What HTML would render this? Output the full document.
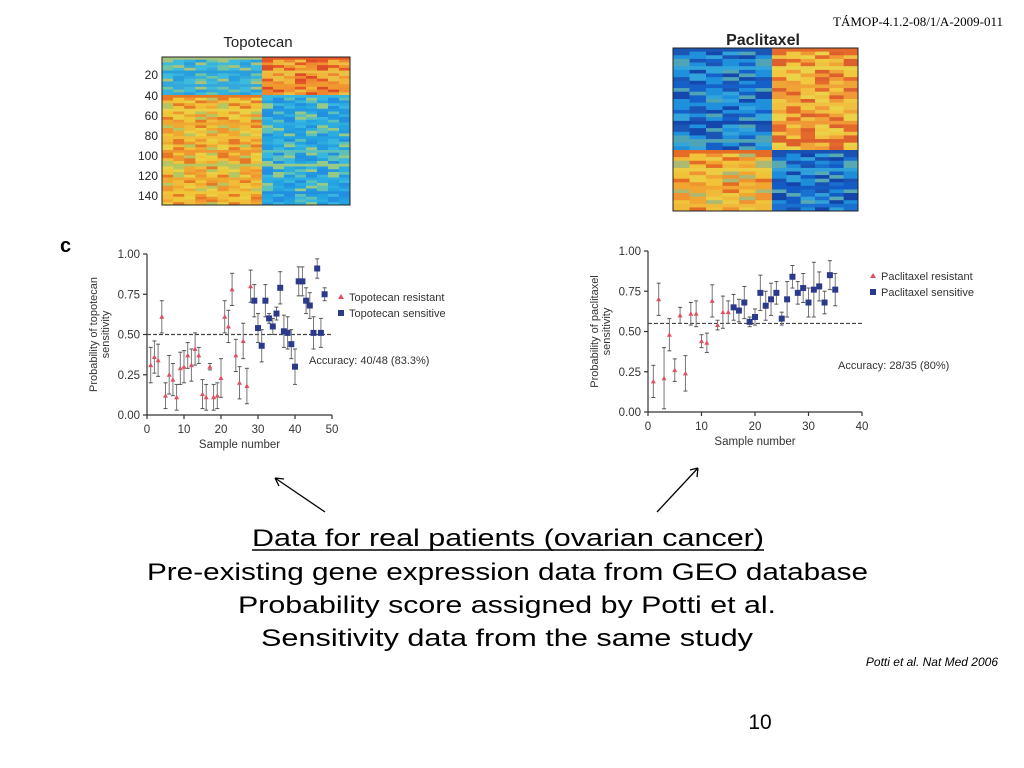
<!DOCTYPE html>
<html><head><meta charset="utf-8"><style>
html,body{margin:0;padding:0;background:#fff;}
svg{display:block;}
</style></head><body>
<svg id="slide" width="1024" height="768" viewBox="0 0 1024 768" xmlns="http://www.w3.org/2000/svg" font-family="Liberation Sans, sans-serif">
<text x="1003" y="26" text-anchor="end" font-family="Liberation Serif, serif" font-size="13">TÁMOP-4.1.2-08/1/A-2009-011</text>

<g>
<text x="258" y="47" text-anchor="middle" font-size="15" fill="#222">Topotecan</text>
<rect x="162" y="57" width="100" height="38" fill="#3cb4d8"/>
<rect x="162" y="95" width="100" height="110" fill="#f0b830"/>
<rect x="262" y="57" width="88" height="38" fill="#f09030"/>
<rect x="262" y="95" width="88" height="110" fill="#2aa8e0"/>
<g id="hmL" opacity="0.6"></g>
<rect x="162" y="57" width="188" height="148" fill="none" stroke="#222" stroke-width="1"/>
<g font-size="12" fill="#222" text-anchor="end">
<text x="158" y="79">20</text><text x="158" y="100">40</text><text x="158" y="120">60</text><text x="158" y="140">80</text><text x="158" y="160">100</text><text x="158" y="180">120</text><text x="158" y="200">140</text>
</g>
</g>
<g>
<text x="763" y="45" text-anchor="middle" font-size="16" font-weight="bold" fill="#222">Paclitaxel</text>
<rect x="673" y="48" width="99" height="102" fill="#1e7ad8"/>
<rect x="673" y="150" width="99" height="61" fill="#f0b030"/>
<rect x="772" y="48" width="86" height="102" fill="#f0c040"/>
<rect x="772" y="150" width="86" height="61" fill="#1a70d0"/>
<g id="hmR" opacity="0.6"></g>
<rect x="673" y="48" width="185" height="163" fill="none" stroke="#222" stroke-width="1"/>
</g>

<text x="60" y="252" font-size="20" font-weight="bold">c</text>
<g id="chartL"></g>
<g id="chartR"></g>

<g stroke="#000" stroke-width="1.3" fill="none">
<line x1="325" y1="512" x2="275" y2="478"/><path d="M275,478 l9,1 M275,478 l4,8"/>
<line x1="657" y1="512" x2="698" y2="468"/><path d="M698,468 l-8,2 M698,468 l-1,9"/>
</g>

<g font-size="24" fill="#000" text-anchor="start">
<text x="252" y="546" textLength="512" lengthAdjust="spacingAndGlyphs">Data for real patients (ovarian cancer)</text>
<line x1="252" y1="550" x2="764" y2="550" stroke="#000" stroke-width="1.5"/>
<text x="147" y="580" textLength="721" lengthAdjust="spacingAndGlyphs">Pre-existing gene expression data from GEO database</text>
<text x="238" y="613" textLength="538" lengthAdjust="spacingAndGlyphs">Probability score assigned by Potti et al.</text>
<text x="261" y="646" textLength="492" lengthAdjust="spacingAndGlyphs">Sensitivity data from the same study</text>
</g>
<text x="998" y="666" text-anchor="end" font-size="12" font-style="italic">Potti et al.  Nat Med 2006</text>
<text x="760" y="729" text-anchor="middle" font-size="21">10</text>
</svg>
<script>
const topoSamples = [1,2,3,4,5,6,7,8,9,10,11,12,13,14,15,16,17,18,19,20,21,22,23,24,25,26,27,28,29,30,31,32,33,34,35,36,37,38,39,40,41,42,43,44,45,46,47,48];
const topoProb = [0.31,0.36,0.34,0.61,0.12,0.25,0.22,0.11,0.29,0.30,0.37,0.31,0.41,0.37,0.13,0.11,0.30,0.11,0.12,0.23,0.61,0.55,0.78,0.37,0.20,0.46,0.18,0.80,0.71,0.54,0.43,0.71,0.60,0.55,0.63,0.79,0.52,0.51,0.44,0.30,0.83,0.83,0.71,0.68,0.51,0.91,0.51,0.75];
const topoErr = [0.11,0.1,0.1,0.1,0.08,0.12,0.1,0.08,0.1,0.1,0.08,0.1,0.1,0.05,0.09,0.08,0.02,0.08,0.08,0.12,0.1,0.1,0.1,0.1,0.1,0.11,0.11,0.1,0.1,0.09,0.1,0.1,0.03,0.05,0.04,0.1,0.1,0.1,0.09,0.11,0.09,0.09,0.08,0.08,0.1,0.06,0.09,0.04];
const topoClass = [0,0,0,0,0,0,0,0,0,0,0,0,0,0,0,0,0,0,0,0,0,0,0,0,0,0,0,0,1,1,1,1,1,1,1,1,1,1,1,1,1,1,1,1,1,1,1,1];
const topoXTicks = [0,10,20,30,40,50];
const yTicks = [0,0.25,0.5,0.75,1.0];
const yTickLabels = ["0.00","0.25","0.50","0.75","1.00"];
const pacSamples = [1,2,3,4,5,6,7,8,9,10,11,12,13,14,15,16,17,18,19,20,21,22,23,24,25,26,27,28,29,30,31,32,33,34,35];
const pacProb = [0.19,0.70,0.21,0.48,0.26,0.60,0.24,0.61,0.61,0.44,0.43,0.69,0.54,0.62,0.62,0.65,0.63,0.68,0.56,0.59,0.74,0.66,0.70,0.74,0.58,0.70,0.84,0.74,0.77,0.68,0.76,0.78,0.68,0.85,0.76];
const pacErr = [0.1,0.1,0.19,0.1,0.07,0.05,0.11,0.07,0.08,0.04,0.06,0.1,0.03,0.1,0.07,0.08,0.07,0.1,0.03,0.05,0.11,0.09,0.1,0.07,0.04,0.11,0.07,0.07,0.09,0.09,0.17,0.09,0.07,0.09,0.1];
const pacClass = [0,0,0,0,0,0,0,0,0,0,0,0,0,0,0,1,1,1,1,1,1,1,1,1,1,1,1,1,1,1,1,1,1,1,1];
const pacXTicks = [0,10,20,30,40];

const NS="http://www.w3.org/2000/svg";
function mk(parent,tag,attrs,text){const e=document.createElementNS(NS,tag);for(const k in attrs)e.setAttribute(k,attrs[k]);if(text!==undefined)e.textContent=text;parent.appendChild(e);return e;}

function drawChart(g,o){
  const sx=v=>o.x0+(v-o.xmin)/(o.xmax-o.xmin)*(o.x1-o.x0);
  const sy=v=>o.y0-(v)*(o.y0-o.y1);
  const ax=mk(g,'g',{stroke:'#333','stroke-width':1.2});
  
  
  mk(ax,'line',{x1:o.x0,y1:o.y0,x2:o.x1,y2:o.y0});
  mk(ax,'line',{x1:o.x0,y1:o.y0,x2:o.x0,y2:o.y1});
  o.xticks.forEach(t=>{
    mk(ax,'line',{x1:sx(t),y1:o.y0,x2:sx(t),y2:o.y0+4});
    const tx=mk(g,'text',{x:sx(t),y:o.y0+18,'text-anchor':'middle','font-size':11.5,fill:'#333'},String(t));
    
    
  });
  yTicks.forEach((t,i)=>{
    mk(ax,'line',{x1:o.x0-4,y1:sy(t),x2:o.x0,y2:sy(t)});
    const tx=mk(g,'text',{x:o.x0-7,y:sy(t)+4,'text-anchor':'end','font-size':11.5,fill:'#333'},yTickLabels[i]);
    
    
  });
  const xt=mk(g,'text',{x:(o.x0+o.x1)/2,y:o.y0+33,'text-anchor':'middle','font-size':11.5,fill:'#333'},'Sample number');
  
  
  const cx=o.x0-44, cy=(o.y0+o.y1)/2;
  const yt=mk(g,'text',{transform:`translate(${cx},${cy}) rotate(-90)`,'text-anchor':'middle','font-size':11,fill:'#333'});
  
  
  mk(yt,'tspan',{x:0,dy:-6},o.ytitle1);
  mk(yt,'tspan',{x:0,dy:12},'sensitivity');
  const th=mk(g,'line',{x1:o.x0,y1:sy(o.thresh),x2:o.x1,y2:sy(o.thresh),stroke:'#444','stroke-width':1.2,'stroke-dasharray':'4,2'});
  
  
  o.xs.forEach((s,i)=>{
    const x=sx(s),y=sy(o.ys[i]),e=o.err[i];
    const pg=mk(g,'g',{});
    
    
    const lo=sy(Math.max(0,o.ys[i]-e)), hi=sy(o.ys[i]+e);
    mk(pg,'line',{x1:x,y1:hi,x2:x,y2:lo,stroke:'#777','stroke-width':1});
    mk(pg,'line',{x1:x-2,y1:hi,x2:x+2,y2:hi,stroke:'#555','stroke-width':1});
    mk(pg,'line',{x1:x-2,y1:lo,x2:x+2,y2:lo,stroke:'#555','stroke-width':1});
    if(o.cls[i]===0) mk(pg,'path',{d:`M${x},${y-2.5} L${x+2.5},${y+2} L${x-2.5},${y+2} Z`,fill:'#e05060'});
    else mk(pg,'rect',{x:x-3,y:y-3,width:6,height:6,fill:'#2c3a8c'});
  });
  const lg=mk(g,'g',{'font-size':11,fill:'#333'});
  
  
  mk(lg,'path',{d:`M${o.lx},${o.ly-7} L${o.lx+3},${o.ly-2} L${o.lx-3},${o.ly-2} Z`,fill:'#e05060'});
  mk(lg,'text',{x:o.lx+8,y:o.ly},o.leg1);
  mk(lg,'rect',{x:o.lx-3,y:o.ly+9,width:6,height:6,fill:'#2c3a8c'});
  mk(lg,'text',{x:o.lx+8,y:o.ly+16},o.leg2);
  const ac=mk(g,'text',{x:o.accx,y:o.accy,'font-size':11,fill:'#333'},o.acc);
  
  
}
drawChart(document.getElementById('chartL'),{x0:147,x1:332,y0:415,y1:254,xmin:0,xmax:50,xticks:topoXTicks,xs:topoSamples,ys:topoProb,err:topoErr,cls:topoClass,thresh:0.5,ytitle1:'Probability of topotecan',lx:341,ly:301,leg1:'Topotecan resistant',leg2:'Topotecan sensitive',acc:'Accuracy: 40/48 (83.3%)',accx:309,accy:364});
drawChart(document.getElementById('chartR'),{x0:648,x1:862,y0:412,y1:251,xmin:0,xmax:40,xticks:pacXTicks,xs:pacSamples,ys:pacProb,err:pacErr,cls:pacClass,thresh:0.55,ytitle1:'Probability of paclitaxel',lx:873,ly:280,leg1:'Paclitaxel resistant',leg2:'Paclitaxel sensitive',acc:'Accuracy: 28/35 (80%)',accx:838,accy:369});

// decorative heatmap row texture
function stripes(id,x,y,w,h,cols,rows,pal){
  const g=document.getElementById(id);
  const cw=w/cols,rh=h/rows;
  for(let r=0;r<rows;r++)for(let c=0;c<cols;c++){
    const k=(r*13+c*7+((r*c)%5)+((r*r)%3))%pal.length;
    mk(g,'rect',{x:x+c*cw,y:y+r*rh,width:cw+0.2,height:rh+0.2,fill:pal[k]});
  }
}
stripes('hmL',162,57,100,38,9,14,['#f0d040','#40c0e0','#30b0e0','#1e90e0','#90d080','#30a0e0','#40c0e0']);
stripes('hmL',162,95,100,110,9,40,['#e05020','#f0d040','#f08030','#e8e050','#90d080','#f0a030','#f0c040']);
stripes('hmL',262,57,88,38,8,14,['#e03020','#f0d040','#f08030','#e8e050','#d02020','#f0a030','#f09030']);
stripes('hmL',262,95,88,110,8,40,['#40c0e0','#1e80e0','#80d0a0','#2090e0','#e0e050','#30b0e0','#20a0e0']);
stripes('hmR',673,48,99,102,6,28,['#1a3fa0','#20a0e0','#102890','#40c0e0','#70c0a0','#1050c0','#20a0e0']);
stripes('hmR',673,150,99,61,6,17,['#e04020','#f0d040','#f08030','#e8e050','#80c0a0','#f0a030','#f0c040']);
stripes('hmR',772,48,86,102,6,28,['#e03020','#f0d040','#f08030','#e8e050','#d02020','#f09030','#f0c040']);
stripes('hmR',772,150,86,61,6,17,['#1a3fa0','#20a0e0','#102890','#40c0e0','#80d0a0','#1050c0','#1a70d0']);
</script>
</body></html>
